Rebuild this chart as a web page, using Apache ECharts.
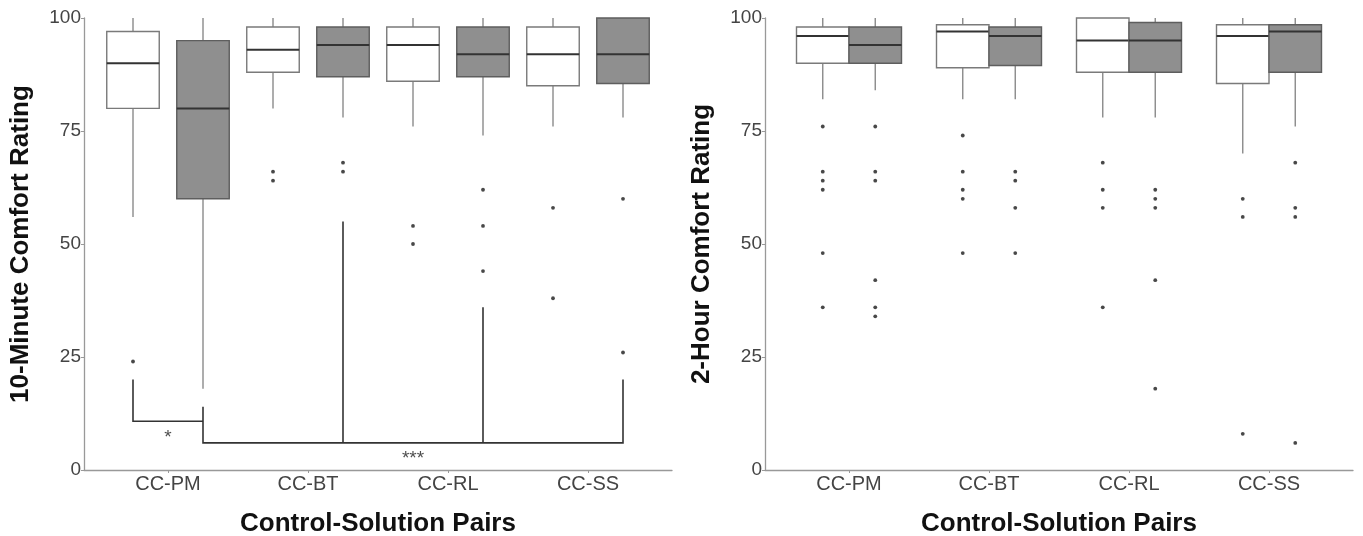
<!DOCTYPE html>
<html>
<head>
<meta charset="utf-8">
<title>Comfort ratings</title>
<script src="https://cdn.jsdelivr.net/npm/echarts@6/dist/echarts.min.js"></script>
<style>
  html, body { margin: 0; padding: 0; background: #fff; }
  #chartContainer { width: 1363px; height: 536px; }
</style>
</head>
<body>
<div id="chartContainer"></div>
<script>
var CATEGORIES = ['CC-PM', 'CC-BT', 'CC-RL', 'CC-SS'];

// box values: [lower whisker, Q1, median, Q3, upper whisker]
var TEN_MIN_CONTROL = [[56, 80, 90, 97, 100], [80, 88, 93, 98, 100], [76, 86, 94, 98, 100], [76, 85, 92, 98, 100]];
var TEN_MIN_SOLUTION = [[18, 60, 80, 95, 100], [78, 87, 94, 98, 100], [74, 87, 92, 98, 100], [78, 85.5, 92, 100, 100]];
var TEN_MIN_CONTROL_OUT = [[24], [66, 64], [54, 50], [58, 38]];
var TEN_MIN_SOLUTION_OUT = [[], [68, 66], [62, 54, 44], [60, 26]];

var TWO_HOUR_CONTROL = [[82, 90, 96, 98, 100], [82, 89, 97, 98.5, 100], [78, 88, 95, 100, 100], [70, 85.5, 96, 98.5, 100]];
var TWO_HOUR_SOLUTION = [[84, 90, 94, 98, 100], [82, 89.5, 96, 98, 100], [78, 88, 95, 99, 100], [76, 88, 97, 98.5, 100]];
var TWO_HOUR_CONTROL_OUT = [[76, 66, 64, 62, 48, 36], [74, 66, 62, 60, 48], [68, 62, 58, 36], [60, 56, 8]];
var TWO_HOUR_SOLUTION_OUT = [[76, 66, 64, 42, 36, 34], [66, 64, 58, 48], [62, 60, 58, 42, 18], [68, 58, 56, 6]];

var Y_TICKS = [0, 25, 50, 75, 100];

// significance brackets on the 10-minute panel: [category (1-based), side (-1 control, 1 solution), top of leg]
var SINGLE_STAR_LEGS = [[1, -1, 20], [1, 1, 10.8]];
var SINGLE_STAR_LEVEL = 10.8;
var TRIPLE_STAR_LEGS = [[1, 1, 14], [2, 1, 55], [3, 1, 36], [4, 1, 20]];
var TRIPLE_STAR_LEVEL = 6;
var STAR_LABELS = [[1.0, 8.3, '*'], [2.75, 3.6, '***']];

var BOX_WIDTH = 0.375;
var FONT = "'Liberation Sans', Arial, sans-serif";

function boxData(values, pos, dodge) {
  return values.map(function (v, i) {
    return [i + 1 + pos * dodge].concat(v);
  });
}

function outlierData(values, pos, dodge) {
  var out = [];
  values.forEach(function (list, i) {
    list.forEach(function (y) { out.push([i + 1 + pos * dodge, y]); });
  });
  return out;
}

function boxSeries(name, data, axisIndex, fill, stroke) {
  return {
    name: name,
    type: 'custom',
    xAxisIndex: axisIndex,
    yAxisIndex: axisIndex,
    encode: { x: 0, y: [1, 2, 3, 4, 5] },
    data: data,
    z: 2,
    renderItem: function (params, api) {
      var x = api.value(0);
      var lo = api.coord([x, api.value(1)]);
      var q1 = api.coord([x, api.value(2)]);
      var med = api.coord([x, api.value(3)]);
      var q3 = api.coord([x, api.value(4)]);
      var hi = api.coord([x, api.value(5)]);
      var half = api.size([BOX_WIDTH, 0])[0] / 2;
      var whisker = { stroke: '#8a8a8a', lineWidth: 1.4 };
      return {
        type: 'group',
        children: [
          { type: 'line', shape: { x1: lo[0], y1: lo[1], x2: q1[0], y2: q1[1] }, style: whisker },
          { type: 'line', shape: { x1: q3[0], y1: q3[1], x2: hi[0], y2: hi[1] }, style: whisker },
          { type: 'rect', shape: { x: q3[0] - half, y: q3[1], width: half * 2, height: q1[1] - q3[1] },
            style: { fill: fill, stroke: stroke, lineWidth: 1.4 } },
          { type: 'line', shape: { x1: med[0] - half, y1: med[1], x2: med[0] + half, y2: med[1] },
            style: { stroke: '#333', lineWidth: 2 } }
        ]
      };
    }
  };
}

function outlierSeries(data, axisIndex) {
  return {
    type: 'scatter',
    xAxisIndex: axisIndex,
    yAxisIndex: axisIndex,
    data: data,
    symbolSize: 3.8,
    itemStyle: { color: '#1a1a1a' },
    silent: true,
    z: 3
  };
}

function bracketPaths(legs, level, dodge) {
  var xs = legs.map(function (l) { return l[0] + l[1] * dodge; });
  var paths = [];
  var first = legs[0], last = legs[legs.length - 1];
  paths.push([[xs[0], first[2]], [xs[0], level], [xs[xs.length - 1], level], [xs[xs.length - 1], last[2]]]);
  for (var i = 1; i < legs.length - 1; i++) {
    paths.push([[xs[i], legs[i][2]], [xs[i], level]]);
  }
  return paths.map(function (c) { return { coords: c }; });
}

function xAxis(gridIndex) {
  return {
    type: 'value',
    gridIndex: gridIndex,
    min: 0.4,
    max: 4.6,
    splitLine: { show: false },
    axisLine: { show: true, lineStyle: { color: '#999', width: 1.3 } },
    axisTick: { show: true, length: 3, customValues: [1, 2, 3, 4], lineStyle: { color: '#999' } },
    axisLabel: {
      customValues: [1, 2, 3, 4],
      margin: 4,
      color: '#444',
      fontSize: 20,
      fontFamily: FONT,
      formatter: function (v) { return CATEGORIES[Math.round(v) - 1]; }
    },
    name: 'Control-Solution Pairs',
    nameLocation: 'middle',
    nameGap: 41,
    nameMoveOverlap: false,
    nameTextStyle: { color: '#111', fontSize: 26, fontWeight: 'bold', fontFamily: FONT, verticalAlign: 'top' }
  };
}

function yAxis(gridIndex, title) {
  return {
    type: 'value',
    gridIndex: gridIndex,
    min: 0,
    max: 100,
    interval: 25,
    splitLine: { show: false },
    axisLine: { show: true, lineStyle: { color: '#999', width: 1.3 } },
    axisTick: { show: true, length: 3, lineStyle: { color: '#999' } },
    axisLabel: { margin: 3, color: '#444', fontSize: 19, fontFamily: FONT,
      formatter: function (v) { return Y_TICKS.indexOf(v) >= 0 ? String(v) : ''; } },
    name: title,
    nameLocation: 'middle',
    nameGap: 50,
    nameTextStyle: { color: '#111', fontSize: 26, fontWeight: 'bold', fontFamily: FONT }
  };
}

var LEFT_DODGE = 0.25;
var RIGHT_DODGE = 0.1875;

var CHART_OPTION = {
  animation: false,
  backgroundColor: '#fff',
  grid: [
    { left: 84, top: 18, width: 588, height: 452, outerBoundsMode: 'none' },
    { left: 765, top: 18, width: 588, height: 452, outerBoundsMode: 'none' }
  ],
  xAxis: [xAxis(0), xAxis(1)],
  yAxis: [yAxis(0, '10-Minute Comfort Rating'), yAxis(1, '2-Hour Comfort Rating')],
  series: [
    {
      type: 'lines',
      coordinateSystem: 'cartesian2d',
      xAxisIndex: 0,
      yAxisIndex: 0,
      polyline: true,
      silent: true,
      lineStyle: { color: '#333', width: 1.6, opacity: 1 },
      data: bracketPaths(SINGLE_STAR_LEGS, SINGLE_STAR_LEVEL, LEFT_DODGE)
        .concat(bracketPaths(TRIPLE_STAR_LEGS, TRIPLE_STAR_LEVEL, LEFT_DODGE)),
      z: 1
    },
    {
      type: 'scatter',
      xAxisIndex: 0,
      yAxisIndex: 0,
      symbolSize: 0,
      silent: true,
      data: STAR_LABELS,
      label: {
        show: true,
        position: 'inside',
        offset: [0, 5],
        color: '#222',
        fontSize: 19,
        fontFamily: FONT,
        formatter: function (p) { return p.value[2]; }
      }
    },
    boxSeries('10 min control', boxData(TEN_MIN_CONTROL, -1, LEFT_DODGE), 0, '#ffffff', '#7a7a7a'),
    boxSeries('10 min solution', boxData(TEN_MIN_SOLUTION, 1, LEFT_DODGE), 0, '#8f8f8f', '#5e5e5e'),
    outlierSeries(outlierData(TEN_MIN_CONTROL_OUT, -1, LEFT_DODGE), 0),
    outlierSeries(outlierData(TEN_MIN_SOLUTION_OUT, 1, LEFT_DODGE), 0),
    boxSeries('2 h control', boxData(TWO_HOUR_CONTROL, -1, RIGHT_DODGE), 1, '#ffffff', '#7a7a7a'),
    boxSeries('2 h solution', boxData(TWO_HOUR_SOLUTION, 1, RIGHT_DODGE), 1, '#8f8f8f', '#5e5e5e'),
    outlierSeries(outlierData(TWO_HOUR_CONTROL_OUT, -1, RIGHT_DODGE), 1),
    outlierSeries(outlierData(TWO_HOUR_SOLUTION_OUT, 1, RIGHT_DODGE), 1)
  ]
};

var CHART = echarts.init(document.getElementById('chartContainer'), null, { renderer: 'canvas' });
CHART.setOption(CHART_OPTION);
</script>
</body>
</html>
